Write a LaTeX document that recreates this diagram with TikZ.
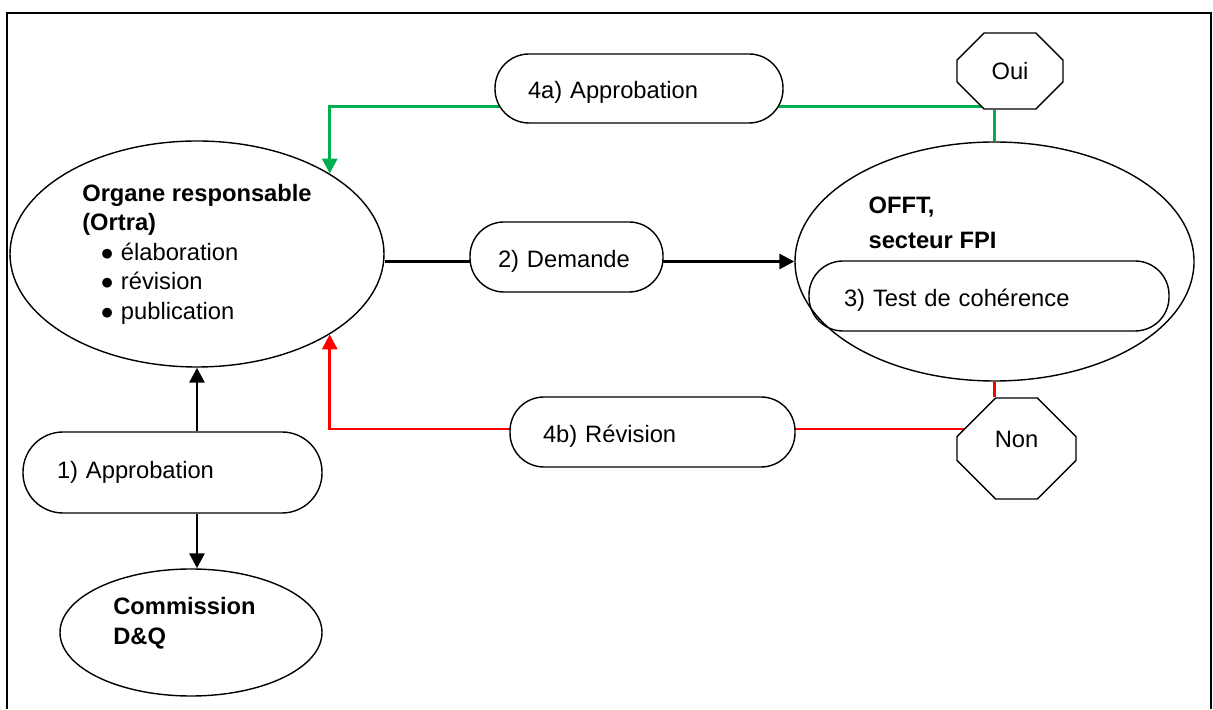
\documentclass[tikz,border=0pt]{standalone}
\usepackage{fontspec}
\setmainfont{Liberation Sans}
\usetikzlibrary{arrows.meta,shapes.geometric,shapes.misc,backgrounds}
\definecolor{vertok}{RGB}{0,176,80}
\definecolor{rougenon}{RGB}{255,0,0}

\begin{document}
\begin{tikzpicture}[>={Triangle[length=3mm,width=3mm]},
    every node/.style={font=\fontsize{13.5}{16.8}\selectfont},
    bulle/.style={draw, ellipse, line width=0.8pt, inner sep=0pt},
    titre/.style={font=\fontsize{13.5}{16.8}\selectfont\bfseries, align=left, inner sep=0pt},
    etape/.style={draw, line width=0.8pt, rounded corners=0.68cm, minimum height=1.38cm, align=left,
                  text height=0.42cm, text depth=0cm},
    octo/.style={draw, chamfered rectangle, line width=0.8pt, inner sep=0pt, fill=white},
    trait/.style={line width=1.7pt}]
    \useasboundingbox (0,0) rectangle (24.26,14.18);
    % cadre
    \draw[line width=1.1pt] (0.14,0) |- (24.22,13.92) -- (24.22,0);

    % acteurs
    \node[bulle, minimum width=7.48cm, minimum height=4.52cm, align=left] (organe) at (3.94,9.10)
        {\textbf{Organe responsable}\\\textbf{(Ortra)}\\
         \hspace*{0.37cm}$\bullet$\hspace{0.15cm}élaboration\\
         \hspace*{0.37cm}$\bullet$\hspace{0.15cm}révision\\
         \hspace*{0.37cm}$\bullet$\hspace{0.15cm}publication};
    \node[bulle, minimum width=7.98cm, minimum height=4.78cm] (offt) at (19.89,8.95) {};
    \node[titre] (offttitre) at (18.65,9.72) {OFFT,\\[3.1pt]secteur FPI};
    \node[bulle, minimum width=5.24cm, minimum height=2.54cm] (commission) at (3.82,1.53) {};
    \node[titre] (commtitre) at (3.69,1.72) {Commission\\D\&Q};

    % etapes
    \node[etape, fill=white, text width=4.62cm, inner xsep=0.68cm, minimum height=1.62cm, rounded corners=0.8cm, text height=0.24cm] (approb) at (3.45,4.73) {1) Approbation};
    \node[etape, fill=white, text width=2.74cm, inner xsep=0.56cm, minimum height=1.40cm] (demande) at (11.33,9.04) {2) Demande};
    \node[etape, text width=5.80cm, inner xsep=0.70cm, minimum height=1.40cm] (test) at (19.78,8.26) {3) Test de cohérence};
    \node[etape, fill=white, text width=4.44cm, inner xsep=0.66cm] (approbA) at (12.78,12.41) {4a) Approbation};
    \node[etape, fill=white, text width=4.38cm, inner xsep=0.66cm, minimum height=1.40cm] (revision) at (13.05,5.54) {4b) Révision};

    % decisions
    \node[octo, minimum width=2.12cm, minimum height=1.52cm, chamfered rectangle xsep=0.42cm, chamfered rectangle ysep=0.42cm] (oui) at (20.20,12.76) {Oui};
    \node[octo, minimum width=2.38cm, minimum height=2.02cm, chamfered rectangle xsep=0.6cm, chamfered rectangle ysep=0.6cm, text depth=0.35cm] (non) at (20.33,5.21) {Non};

    \begin{scope}[on background layer]
        \draw[trait, ->] (organe.south |- approb.north) -- (organe.south);
        \draw[trait, ->] (organe.south |- approb.south) -- (organe.south |- commission.north);
        \draw[trait, ->] (organe.east |- offt.west) -- (offt.west);
        \draw[trait, vertok] (offt.north) -- (offt.north |- oui.south);
        \draw[trait, vertok, ->] ([yshift=0.06cm]oui.south) -| (organe.north east);
        \draw[trait, rougenon] (offt.south) -- (offt.south |- non.north);
        \draw[trait, rougenon, ->] ([yshift=0.39cm]non.center) -| (organe.south east);
    \end{scope}
\end{tikzpicture}
\end{document}
